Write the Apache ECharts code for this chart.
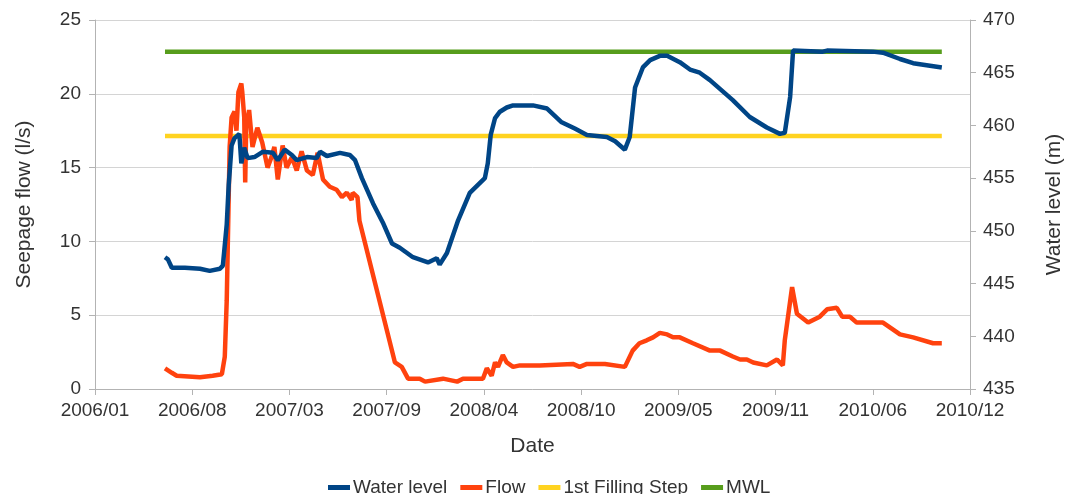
<!DOCTYPE html>
<html>
<head>
<meta charset="utf-8">
<script src="https://cdn.jsdelivr.net/npm/echarts@6/dist/echarts.min.js"></script>
<style>
  html, body { margin: 0; padding: 0; background: #fff; }
  #chart { width: 1067px; height: 494px; }
</style>
</head>
<body>
<div id="chart"></div>
<script>
// x axis is counted in days from 2006-01-25, one tick every 200 days
const ORIGIN = Date.UTC(2006, 0, 25);
const DAY = 86400000;
const xTickLabels = ['2006/01', '2006/08', '2007/03', '2007/09', '2008/04', '2008/10', '2009/05', '2009/11', '2010/06', '2010/12'];

const levelDates = [
  '2006-06-18', '2006-06-24', '2006-07-02', '2006-07-29', '2006-08-29', '2006-09-18', '2006-10-09', '2006-10-15',
  '2006-10-23', '2006-10-27', '2006-11-02', '2006-11-08', '2006-11-18', '2006-11-22', '2006-11-28', '2006-12-05',
  '2006-12-19', '2007-01-05', '2007-01-26', '2007-02-05', '2007-02-19', '2007-03-06', '2007-03-16', '2007-04-06',
  '2007-04-26', '2007-05-03', '2007-05-17', '2007-06-13', '2007-07-03', '2007-07-14', '2007-07-28', '2007-08-20',
  '2007-09-09', '2007-09-28', '2007-10-14', '2007-11-10', '2007-12-11', '2007-12-29', '2008-01-04', '2008-01-19',
  '2008-02-11', '2008-03-06', '2008-04-06', '2008-04-12', '2008-04-18', '2008-04-27', '2008-05-07', '2008-05-21',
  '2008-06-03', '2008-07-14', '2008-08-12', '2008-09-11', '2008-10-08', '2008-11-02', '2008-12-13', '2008-12-30',
  '2009-01-19', '2009-01-29', '2009-02-09', '2009-02-25', '2009-03-12', '2009-04-01', '2009-04-16', '2009-05-12',
  '2009-06-02', '2009-06-22', '2009-07-13', '2009-08-29', '2009-10-03', '2009-11-07', '2009-12-04', '2009-12-14',
  '2009-12-25', '2009-12-31', '2010-03-02', '2010-03-11', '2010-06-13', '2010-07-04', '2010-08-08', '2010-09-04',
  '2010-11-02'
];
const levelValues = [
  447.5, 447.3, 446.5, 446.5, 446.4, 446.2, 446.4, 446.7,
  450.6, 454.3, 458.1, 458.8, 459.2, 456.4, 457.9, 456.9,
  457.0, 457.5, 457.4, 456.7, 457.7, 457.2, 456.7, 457.0,
  456.9, 457.5, 457.1, 457.4, 457.2, 456.7, 455.0, 452.6,
  450.8, 448.8, 448.4, 447.5, 447.0, 447.4, 446.8, 447.9,
  451.0, 453.6, 455.0, 456.4, 459.1, 460.7, 461.3, 461.7,
  461.9, 461.9, 461.6, 460.3, 459.7, 459.1, 458.9, 458.5,
  457.7, 458.9, 463.6, 465.5, 466.2, 466.6, 466.6, 466.0,
  465.3, 465.0, 464.3, 462.4, 460.8, 459.8, 459.2, 459.3,
  462.7, 467.1, 467.0, 467.1, 467.0, 466.9, 466.3, 465.9,
  465.5
];

const flowDates = [
  '2006-06-18', '2006-07-02', '2006-07-12', '2006-08-29', '2006-09-24', '2006-10-13', '2006-10-19', '2006-10-23',
  '2006-10-29', '2006-11-02', '2006-11-08', '2006-11-12', '2006-11-16', '2006-11-22', '2006-11-24', '2006-11-28',
  '2006-11-30', '2006-12-02', '2006-12-08', '2006-12-15', '2006-12-25', '2007-01-04', '2007-01-15', '2007-01-23',
  '2007-01-29', '2007-02-05', '2007-02-15', '2007-02-23', '2007-03-06', '2007-03-16', '2007-03-26', '2007-04-06',
  '2007-04-18', '2007-04-28', '2007-05-09', '2007-05-23', '2007-06-06', '2007-06-17', '2007-06-27', '2007-07-07',
  '2007-07-09', '2007-07-19', '2007-07-23', '2007-10-04', '2007-10-18', '2007-10-31', '2007-11-24', '2007-12-05',
  '2008-01-11', '2008-02-09', '2008-02-21', '2008-04-02', '2008-04-10', '2008-04-20', '2008-04-27', '2008-05-03',
  '2008-05-13', '2008-05-21', '2008-06-03', '2008-06-17', '2008-07-28', '2008-10-04', '2008-10-18', '2008-11-02',
  '2008-12-09', '2009-01-19', '2009-02-04', '2009-02-18', '2009-03-05', '2009-03-18', '2009-04-01', '2009-04-16',
  '2009-04-28', '2009-05-12', '2009-06-08', '2009-07-13', '2009-08-03', '2009-08-29', '2009-09-13', '2009-09-27',
  '2009-10-10', '2009-11-07', '2009-11-28', '2009-12-10', '2009-12-14', '2009-12-29', '2010-01-08', '2010-01-31',
  '2010-02-24', '2010-03-11', '2010-03-31', '2010-04-11', '2010-04-27', '2010-05-11', '2010-06-13', '2010-07-04',
  '2010-08-08', '2010-09-04', '2010-10-15', '2010-11-02'
];
const flowValues = [
  1.4, 1.1, 0.9, 0.8, 0.9, 1.0, 2.2, 6.0,
  16.4, 18.4, 18.8, 17.5, 20.1, 20.7, 20.1, 18.4,
  14.0, 17.7, 18.9, 16.4, 17.7, 16.7, 15.0, 15.7,
  16.4, 14.2, 16.5, 15.0, 15.7, 14.8, 16.1, 14.8,
  14.5, 16.0, 14.2, 13.7, 13.5, 13.0, 13.3, 12.8,
  13.3, 13.0, 11.4, 1.8, 1.5, 0.7, 0.7, 0.5,
  0.7, 0.5, 0.7, 0.7, 1.4, 0.9, 1.8, 1.5,
  2.3, 1.8, 1.5, 1.6, 1.6, 1.7, 1.5, 1.7,
  1.7, 1.5, 2.6, 3.1, 3.3, 3.5, 3.8, 3.7,
  3.5, 3.5, 3.1, 2.6, 2.6, 2.2, 2.0, 2.0,
  1.8, 1.6, 2.0, 1.6, 3.3, 6.9, 5.1, 4.5,
  4.9, 5.4, 5.5, 4.9, 4.9, 4.5, 4.5, 4.5,
  3.7, 3.5, 3.1, 3.1
];

const refDates = ['2006-06-18', '2010-11-02'];
const fillingStep = 459;
const mwl = 467;

const toDay = s => (Date.parse(s) - ORIGIN) / DAY;
const pairs = (dates, values) => dates.map((d, i) => [toDay(d), values[i]]);

const FONT = 'Liberation Sans';
const textColor = '#333333';
const axisColor = '#b3b3b3';

const chart = echarts.init(document.getElementById('chart'));
chart.setOption({
  animation: false,
  textStyle: { fontFamily: FONT },
  grid: { left: 95, right: 97, top: 20, bottom: 105, outerBoundsMode: 'none' },
  legend: {
    bottom: -8,
    left: 323,
    icon: 'rect',
    itemWidth: 22,
    itemHeight: 5,
    itemGap: 13,
    textStyle: { fontFamily: FONT, fontSize: 19, color: textColor, padding: [0, 0, 0, -2] },
    data: ['Water level', 'Flow', '1st Filling Step', 'MWL']
  },
  xAxis: {
    type: 'value',
    min: 0,
    max: 1800,
    interval: 200,
    name: 'Date',
    nameLocation: 'middle',
    nameGap: 47,
    nameTextStyle: { fontFamily: FONT, fontSize: 21, color: textColor },
    axisLine: { show: true, lineStyle: { color: axisColor } },
    axisTick: { show: true, length: 6, lineStyle: { color: axisColor } },
    axisLabel: {
      fontFamily: FONT, fontSize: 19, color: textColor, margin: 12,
      formatter: v => xTickLabels[Math.round(v / 200)]
    },
    splitLine: { show: false }
  },
  yAxis: [
    {
      type: 'value',
      min: 0,
      max: 25,
      interval: 5,
      name: 'Seepage flow (l/s)',
      nameLocation: 'middle',
      nameRotate: 90,
      nameGap: 60,
      nameTextStyle: { fontFamily: FONT, fontSize: 21, color: textColor },
      axisLine: { show: true, lineStyle: { color: axisColor } },
      axisTick: { show: true, length: 6, lineStyle: { color: axisColor } },
      axisLabel: { fontFamily: FONT, fontSize: 19, color: textColor, margin: 14 },
      splitLine: { show: true, lineStyle: { color: '#d4d4d4', width: 1 } }
    },
    {
      type: 'value',
      min: 435,
      max: 470,
      interval: 5,
      position: 'right',
      name: 'Water level (m)',
      nameLocation: 'middle',
      nameRotate: 90,
      nameGap: 74,
      nameTextStyle: { fontFamily: FONT, fontSize: 21, color: textColor },
      axisLine: { show: true, lineStyle: { color: axisColor } },
      axisTick: { show: true, length: 6, lineStyle: { color: axisColor } },
      axisLabel: { fontFamily: FONT, fontSize: 19, color: textColor, margin: 13 },
      splitLine: { show: false }
    }
  ],
  series: [
    {
      name: 'Water level',
      type: 'line',
      yAxisIndex: 1,
      z: 5,
      showSymbol: false,
      data: pairs(levelDates, levelValues),
      itemStyle: { color: '#004586' },
      lineStyle: { color: '#004586', width: 4.5 }
    },
    {
      name: 'Flow',
      type: 'line',
      yAxisIndex: 0,
      z: 4,
      showSymbol: false,
      data: pairs(flowDates, flowValues),
      itemStyle: { color: '#ff420e' },
      lineStyle: { color: '#ff420e', width: 4.5 }
    },
    {
      name: '1st Filling Step',
      type: 'line',
      yAxisIndex: 1,
      z: 3,
      showSymbol: false,
      data: refDates.map(d => [toDay(d), fillingStep]),
      itemStyle: { color: '#ffd320' },
      lineStyle: { color: '#ffd320', width: 4.5 }
    },
    {
      name: 'MWL',
      type: 'line',
      yAxisIndex: 1,
      z: 3,
      showSymbol: false,
      data: refDates.map(d => [toDay(d), mwl]),
      itemStyle: { color: '#579d1c' },
      lineStyle: { color: '#579d1c', width: 4.5 }
    }
  ]
});
</script>
</body>
</html>
